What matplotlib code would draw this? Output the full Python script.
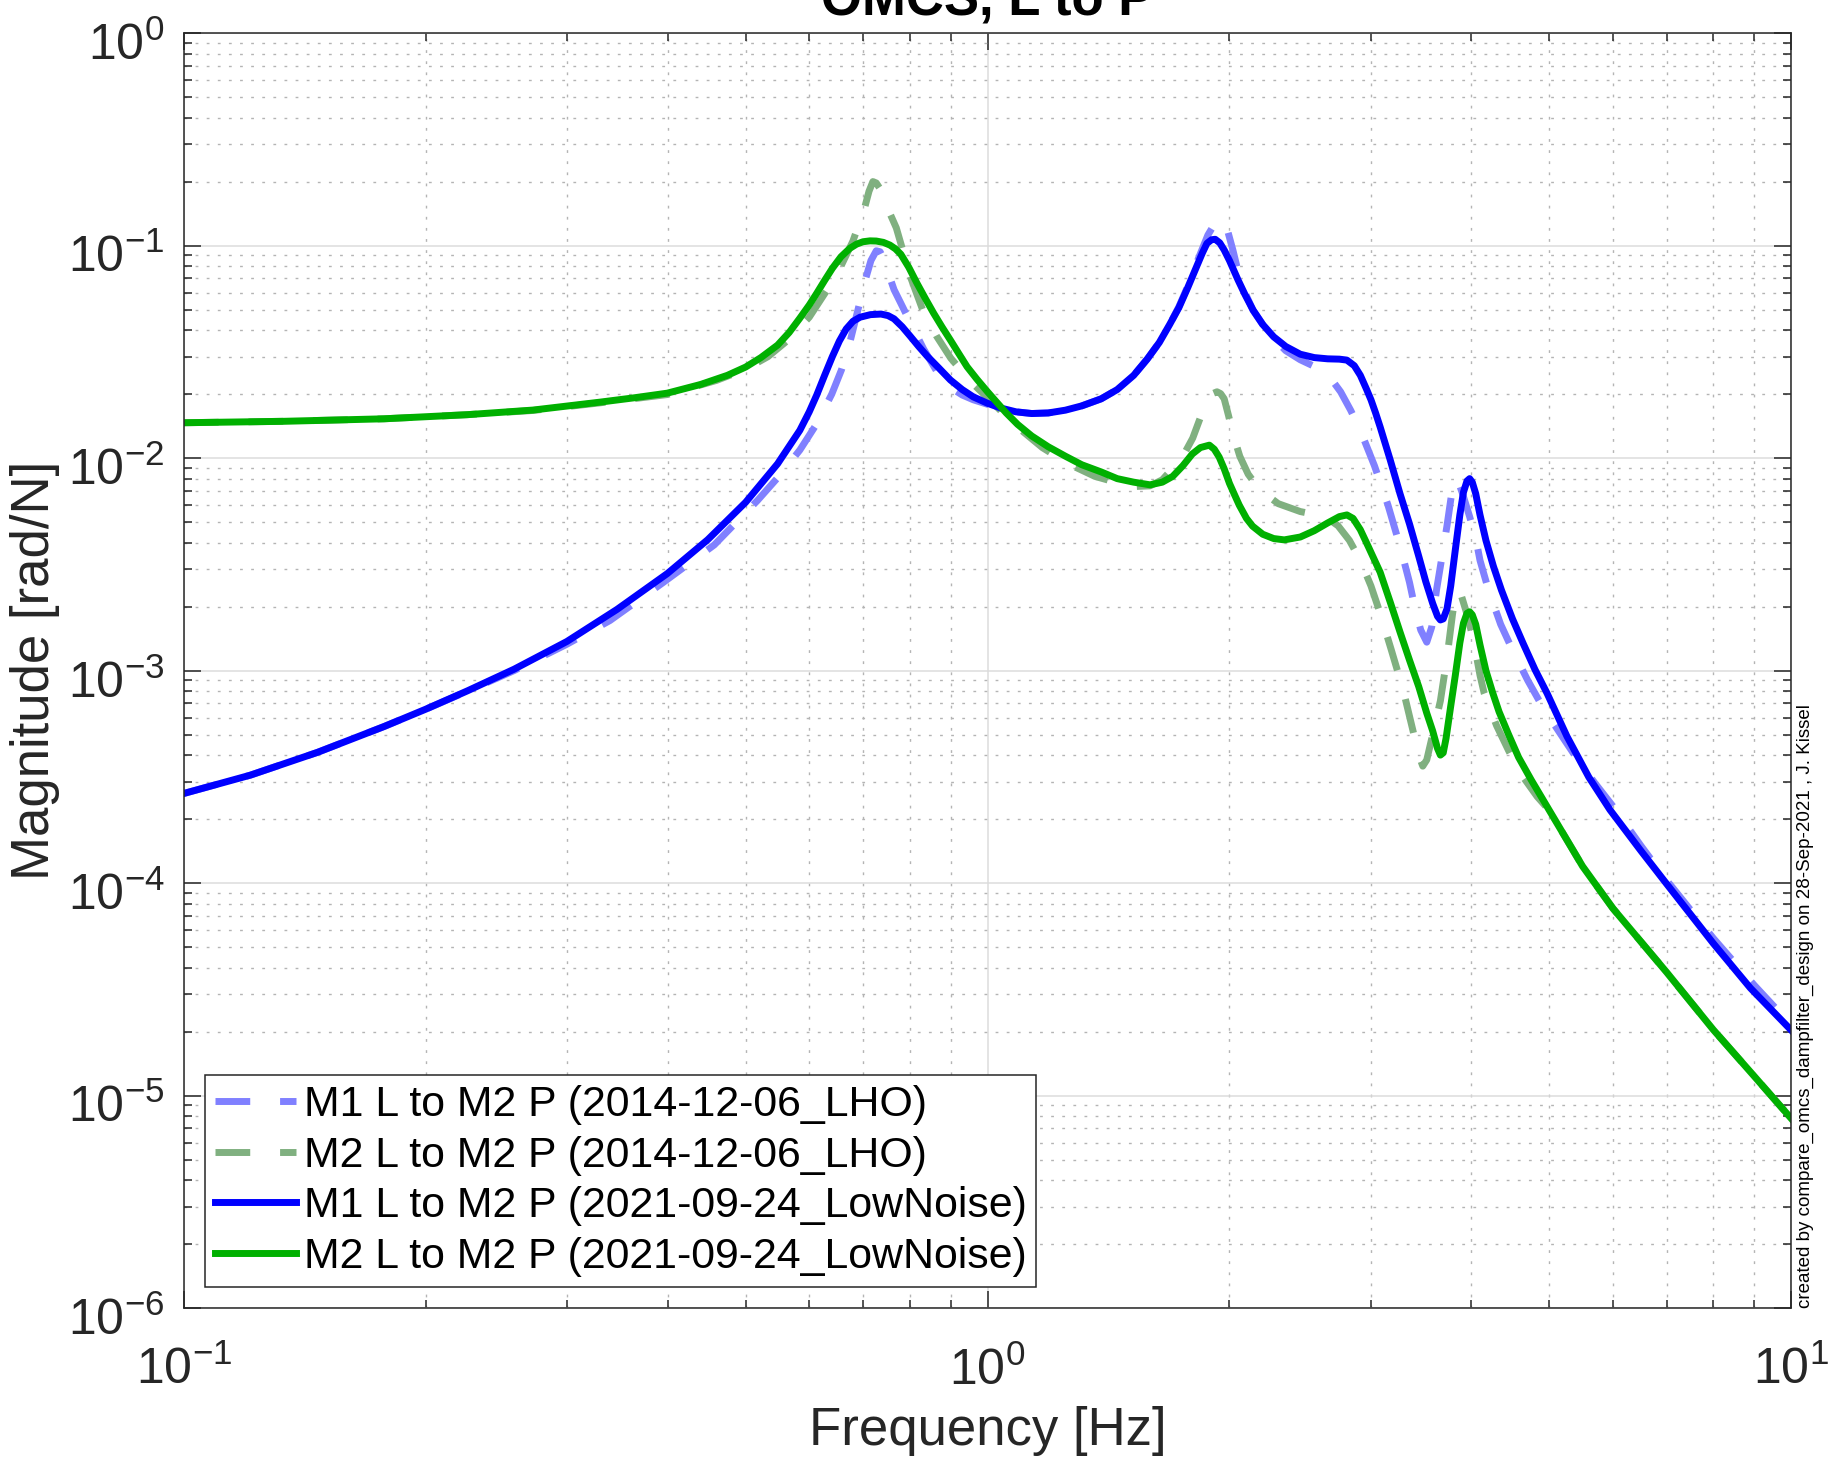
import numpy as np
import matplotlib
matplotlib.use('Agg')
import matplotlib.pyplot as plt
from matplotlib.ticker import LogLocator, NullFormatter
from matplotlib.transforms import ScaledTranslation

# M1 L -> M2 P, 2014-12-06_LHO model
freq_m1_lho = [0.1, 0.121, 0.1466, 0.1774, 0.2, 0.2254, 0.2576, 0.2996, 0.339, 0.395,
               0.457, 0.517, 0.55, 0.584, 0.613, 0.64, 0.658, 0.674, 0.69, 0.703,
               0.716, 0.727, 0.735, 0.743, 0.75, 0.765, 0.78, 0.805, 0.833, 0.865,
               0.899, 0.93, 0.96, 1.0, 1.038, 1.085, 1.135, 1.19, 1.25, 1.31,
               1.385, 1.45, 1.52, 1.58, 1.636, 1.685, 1.73, 1.78, 1.83, 1.88,
               1.92, 1.96, 1.99, 2.02, 2.06, 2.1, 2.14, 2.2, 2.27, 2.35,
               2.45, 2.55, 2.65, 2.75, 2.83, 2.91, 3.03, 3.15, 3.27, 3.35,
               3.41, 3.46, 3.52, 3.57, 3.62, 3.68, 3.73, 3.78, 3.82, 3.85,
               3.9, 3.98, 4.05, 4.1, 4.2, 4.35, 4.5, 4.7, 4.9, 5.1,
               5.4, 5.7, 6.0, 6.5, 7.0, 8.0, 9.0, 10.0]
mag_m1_lho = [2.64e-4, 3.22e-4, 4.12e-4, 5.45e-4, 6.58e-4, 8.0e-4, 1.0e-3, 1.33e-3, 1.72e-3, 2.6e-3,
              3.9e-3, 6.3e-3, 8.2e-3, 0.0109, 0.0145, 0.0200, 0.0260, 0.0350, 0.0500, 0.0670,
              0.0850, 0.0945, 0.0935, 0.0860, 0.0770, 0.0620, 0.0535, 0.0420, 0.0325, 0.0255,
              0.0215, 0.0198, 0.0188, 0.0179, 0.0171, 0.0165, 0.0162, 0.0163, 0.0168, 0.0176,
              0.0190, 0.0210, 0.0245, 0.0292, 0.0350, 0.0425, 0.0515, 0.0660, 0.0870, 0.1120,
              0.1280, 0.1330, 0.1170, 0.0950, 0.0700, 0.0580, 0.0495, 0.0425, 0.0365, 0.0320,
              0.0290, 0.0270, 0.0248, 0.0205, 0.0168, 0.0135, 0.0092, 0.0060, 0.0037, 0.0026,
              0.0019, 0.00155, 0.00136, 0.0016, 0.0024, 0.0035, 0.0048, 0.0068, 0.0080, 0.0078,
              0.0068, 0.0053, 0.0042, 0.0033, 0.0024, 0.00165, 0.00125, 9.0e-4, 6.8e-4, 5.4e-4,
              3.9e-4, 2.95e-4, 2.3e-4, 1.5e-4, 1.03e-4, 5.5e-5, 3.3e-5, 2.15e-5]

# M2 L -> M2 P, 2014-12-06_LHO model
freq_m2_lho = [0.1, 0.1332, 0.1774, 0.2253, 0.272, 0.33, 0.3995, 0.46, 0.5, 0.533,
               0.565, 0.6, 0.63, 0.656, 0.68, 0.703, 0.712, 0.72, 0.727, 0.735,
               0.744, 0.757, 0.77, 0.785, 0.801, 0.83, 0.864, 0.9, 0.953, 1.0,
               1.087, 1.17, 1.26, 1.36, 1.46, 1.53, 1.593, 1.65, 1.72, 1.76,
               1.8, 1.84, 1.875, 1.9, 1.93, 1.95, 1.97, 1.995, 2.02, 2.06,
               2.11, 2.18, 2.3, 2.45, 2.57, 2.65, 2.73, 2.82, 2.91, 3.0,
               3.08, 3.18, 3.29, 3.38, 3.44, 3.48, 3.52, 3.58, 3.66, 3.73,
               3.79, 3.82, 3.85, 3.88, 3.94, 4.02, 4.1, 4.15, 4.3, 4.45,
               4.6, 4.83, 5.0, 5.5, 6.0, 7.0, 8.0, 9.0, 10.0]
mag_m2_lho = [0.01466, 0.01489, 0.0153, 0.0160, 0.01675, 0.0182, 0.0199, 0.0232, 0.0262, 0.0300,
              0.0360, 0.0460, 0.0610, 0.0790, 0.1050, 0.1500, 0.1800, 0.2000, 0.1970, 0.1850,
              0.1660, 0.1400, 0.1210, 0.0940, 0.0720, 0.0500, 0.0375, 0.0295, 0.0229, 0.0192,
              0.0141, 0.0112, 0.0094, 0.0082, 0.0076, 0.00735, 0.0074, 0.0079, 0.0094, 0.0106,
              0.0124, 0.0155, 0.0185, 0.0200, 0.0205, 0.0201, 0.0190, 0.0158, 0.0130, 0.0102,
              0.0084, 0.0071, 0.0061, 0.0056, 0.0054, 0.0052, 0.0048, 0.0041, 0.0033, 0.0025,
              0.00186, 0.00125, 0.00081, 0.00053, 0.00040, 0.000355, 0.00038, 0.00050, 0.00072, 0.00115,
              0.00185, 0.00225, 0.0024, 0.0023, 0.0019, 0.00142, 0.00095, 0.00078, 0.00055, 0.00042,
              0.00033, 0.000255, 0.00022, 0.00012, 7.6e-5, 3.8e-5, 2.04e-5, 1.23e-5, 7.8e-6]

# M1 L -> M2 P, 2021-09-24_LowNoise
freq_m1_ln = [0.1, 0.121, 0.1466, 0.1774, 0.2, 0.2254, 0.2576, 0.2996, 0.3459, 0.3995,
              0.4486, 0.5, 0.548, 0.566, 0.584, 0.6, 0.613, 0.627, 0.641, 0.654,
              0.667, 0.68, 0.694, 0.715, 0.737, 0.752, 0.765, 0.783, 0.801, 0.821,
              0.841, 0.87, 0.899, 0.93, 0.96, 1.0, 1.038, 1.085, 1.135, 1.19,
              1.25, 1.31, 1.385, 1.45, 1.52, 1.58, 1.636, 1.685, 1.73, 1.775,
              1.82, 1.85, 1.875, 1.9, 1.92, 1.945, 1.97, 2.0, 2.05, 2.09,
              2.14, 2.2, 2.27, 2.35, 2.45, 2.55, 2.65, 2.74, 2.8, 2.86,
              2.91, 2.96, 3.0, 3.04, 3.08, 3.17, 3.26, 3.35, 3.44, 3.51,
              3.58, 3.63, 3.66, 3.69, 3.73, 3.77, 3.82, 3.87, 3.91, 3.95,
              3.98, 4.01, 4.05, 4.1, 4.17, 4.26, 4.36, 4.5, 4.64, 4.8,
              4.97, 5.26, 5.6, 5.95, 6.5, 7.0, 8.0, 8.9, 10.0]
mag_m1_ln = [2.64e-4, 3.22e-4, 4.12e-4, 5.45e-4, 6.58e-4, 8.03e-4, 1.015e-3, 1.37e-3, 1.94e-3, 2.86e-3,
             4.13e-3, 6.19e-3, 9.4e-3, 0.0113, 0.0135, 0.0165, 0.0198, 0.0245, 0.0300, 0.0355,
             0.0405, 0.0440, 0.0460, 0.0473, 0.0476, 0.0468, 0.0452, 0.0415, 0.0375, 0.0335,
             0.0302, 0.0265, 0.0233, 0.0210, 0.0194, 0.0181, 0.0172, 0.0165, 0.0162, 0.0163,
             0.0168, 0.0176, 0.0190, 0.0210, 0.0245, 0.0292, 0.0350, 0.0425, 0.0510, 0.0635,
             0.0795, 0.0920, 0.1024, 0.1065, 0.1070, 0.1030, 0.0953, 0.0850, 0.0688, 0.0590,
             0.0497, 0.0425, 0.0372, 0.0335, 0.0308, 0.0297, 0.0293, 0.0292, 0.0289, 0.0272,
             0.0245, 0.0212, 0.0188, 0.0163, 0.0140, 0.0098, 0.0068, 0.0049, 0.00345, 0.00262,
             0.00207, 0.00180, 0.00173, 0.00175, 0.00195, 0.0025, 0.0037, 0.0054, 0.0069, 0.0078,
             0.0080, 0.0077, 0.0068, 0.0054, 0.0041, 0.0031, 0.00239, 0.00175, 0.00134, 0.00101,
             7.8e-4, 4.9e-4, 3.15e-4, 2.21e-4, 1.42e-4, 9.9e-5, 5.2e-5, 3.2e-5, 2.03e-5]

# M2 L -> M2 P, 2021-09-24_LowNoise
freq_m2_ln = [0.1, 0.1332, 0.1774, 0.2253, 0.272, 0.33, 0.363, 0.3995, 0.4396, 0.4745,
              0.5, 0.5224, 0.548, 0.5665, 0.584, 0.6, 0.613, 0.627, 0.641, 0.657,
              0.674, 0.687, 0.7, 0.714, 0.727, 0.742, 0.756, 0.768, 0.78, 0.798,
              0.817, 0.837, 0.857, 0.878, 0.899, 0.921, 0.943, 0.97, 1.0, 1.028,
              1.055, 1.09, 1.135, 1.19, 1.25, 1.31, 1.385, 1.45, 1.52, 1.593,
              1.65, 1.7, 1.75, 1.798, 1.84, 1.888, 1.915, 1.942, 1.97, 2.0,
              2.03, 2.057, 2.1, 2.137, 2.2, 2.27, 2.34, 2.45, 2.55, 2.65,
              2.74, 2.8, 2.85, 2.91, 2.98, 3.08, 3.17, 3.26, 3.35, 3.44,
              3.52, 3.58, 3.63, 3.66, 3.69, 3.72, 3.77, 3.82, 3.87, 3.91,
              3.95, 3.98, 4.01, 4.05, 4.1, 4.17, 4.25, 4.33, 4.45, 4.58,
              4.75, 5.0, 5.5, 6.0, 7.0, 8.0, 9.0, 10.0]
mag_m2_ln = [0.01466, 0.01489, 0.0153, 0.0160, 0.01682, 0.01834, 0.0192, 0.0202, 0.0222, 0.0245,
             0.0268, 0.0297, 0.0340, 0.0390, 0.0455, 0.0525, 0.0596, 0.0685, 0.0781, 0.0885,
             0.0970, 0.1015, 0.1042, 0.1052, 0.1050, 0.1035, 0.1005, 0.0965, 0.0910, 0.0790,
             0.0664, 0.0562, 0.0480, 0.0413, 0.0359, 0.0310, 0.0269, 0.0235, 0.0205, 0.0182,
             0.0163, 0.0144, 0.0127, 0.0113, 0.0102, 0.0093, 0.0086, 0.0080, 0.0077, 0.00748,
             0.0077, 0.0082, 0.0092, 0.01045, 0.0112, 0.0115, 0.0110, 0.0101, 0.0089, 0.0076,
             0.0067, 0.0060, 0.0052, 0.00478, 0.00438, 0.00418, 0.00412, 0.00425, 0.00455, 0.00495,
             0.0053, 0.0054, 0.0052, 0.0046, 0.0038, 0.0029, 0.0021, 0.00152, 0.00112, 0.00084,
             0.00063, 0.00052, 0.00043, 0.00040, 0.00041, 0.00048, 0.00068, 0.00095, 0.00135, 0.00167,
             0.00186, 0.00189, 0.00183, 0.00165, 0.00132, 0.00100, 0.00079, 0.00064, 0.00050, 0.00039,
             0.000305, 0.00022, 0.00012, 7.6e-5, 3.8e-5, 2.04e-5, 1.23e-5, 7.8e-6]

labels = ['M1 L to M2 P (2014-12-06_LHO)',
          'M2 L to M2 P (2014-12-06_LHO)',
          'M1 L to M2 P (2021-09-24_LowNoise)',
          'M2 L to M2 P (2021-09-24_LowNoise)']

plt.rcParams['font.family'] = ['Liberation Sans', 'DejaVu Sans']
plt.rcParams['mathtext.fontset'] = 'custom'
plt.rcParams['mathtext.rm'] = 'Liberation Sans'
plt.rcParams['mathtext.default'] = 'regular'
plt.rcParams['axes.unicode_minus'] = False

axcol = '#262626'

fig = plt.figure(figsize=(18.39, 14.62), dpi=100)
ax = fig.add_axes([0.1, 0.1053, 0.874, 0.8721])

lw = 5
dash = (0, (5, 4.3))
ax.loglog(freq_m1_lho, mag_m1_lho, color='#8080ff', lw=lw, linestyle=dash, label=labels[0])
ax.loglog(freq_m2_lho, mag_m2_lho, color='#80b080', lw=lw, linestyle=dash, label=labels[1])
ax.loglog(freq_m1_ln, mag_m1_ln, color='#0000ff', lw=lw, label=labels[2])
ax.loglog(freq_m2_ln, mag_m2_ln, color='#00b000', lw=lw, label=labels[3])

ax.set_xlim(0.1, 10)
ax.set_ylim(1e-6, 1)

ax.xaxis.set_major_locator(LogLocator(base=10, numticks=10))
ax.yaxis.set_major_locator(LogLocator(base=10, numticks=10))
ax.xaxis.set_minor_locator(LogLocator(base=10, subs=np.arange(2, 10), numticks=20))
ax.yaxis.set_minor_locator(LogLocator(base=10, subs=np.arange(2, 10), numticks=20))
ax.xaxis.set_minor_formatter(NullFormatter())
ax.yaxis.set_minor_formatter(NullFormatter())

# matlab-ish grid: solid majors, dotted minors
ax.grid(True, which='major', color='#dcdcdc', linestyle='-', linewidth=1.1)
ax.grid(True, which='minor', color='#b4b4b4', linestyle=(0, (2, 6)), linewidth=1.0)
ax.set_axisbelow(True)

ax.tick_params(which='both', direction='in', top=True, right=True, color=axcol,
               labelcolor=axcol, labelsize=36, width=1.1)
ax.tick_params(which='major', length=12)
ax.tick_params(axis='y', which='major', pad=14)
ax.tick_params(axis='x', which='major', pad=28)
ax.tick_params(which='minor', length=6)
for s in ax.spines.values():
    s.set_color(axcol)
    s.set_linewidth(1.1)

ax.set_xlabel('Frequency [Hz]', fontsize=38, color=axcol)
ax.set_ylabel('Magnitude [rad/N]', fontsize=38, color=axcol)
ax.xaxis.set_label_coords(0.5, -0.077)
ax.yaxis.set_label_coords(-0.077, 0.5)

leg = ax.legend(loc='lower left', bbox_to_anchor=(0.013, 0.0165), borderaxespad=0,
                fontsize=30.9, handlelength=1.9, handletextpad=0.17, labelspacing=0.25,
                borderpad=0.23, fancybox=False, framealpha=1)
leg.get_frame().set_edgecolor(axcol)
leg.get_frame().set_linewidth(1.1)

fig.text(0.537, 1 - 15 / 1462, 'OMCS, L to P', ha='center', va='baseline',
         fontsize=38, fontweight='bold')
fig.text(1805 / 1839, (1462 - 1308) / 1462,
         'created by compare_omcs_dampfilter_design on 28-Sep-2021 , J. Kissel',
         rotation=90, ha='center', va='bottom', fontsize=13.5)

# nudge the y tick labels down a bit, matlab centres the whole exponent label
fig.canvas.draw()
shift = ScaledTranslation(0, -0.08, fig.dpi_scale_trans)
for t in ax.yaxis.get_major_ticks():
    t.label1.set_transform(t.label1.get_transform() + shift)

plt.savefig('out.png', dpi=100)
